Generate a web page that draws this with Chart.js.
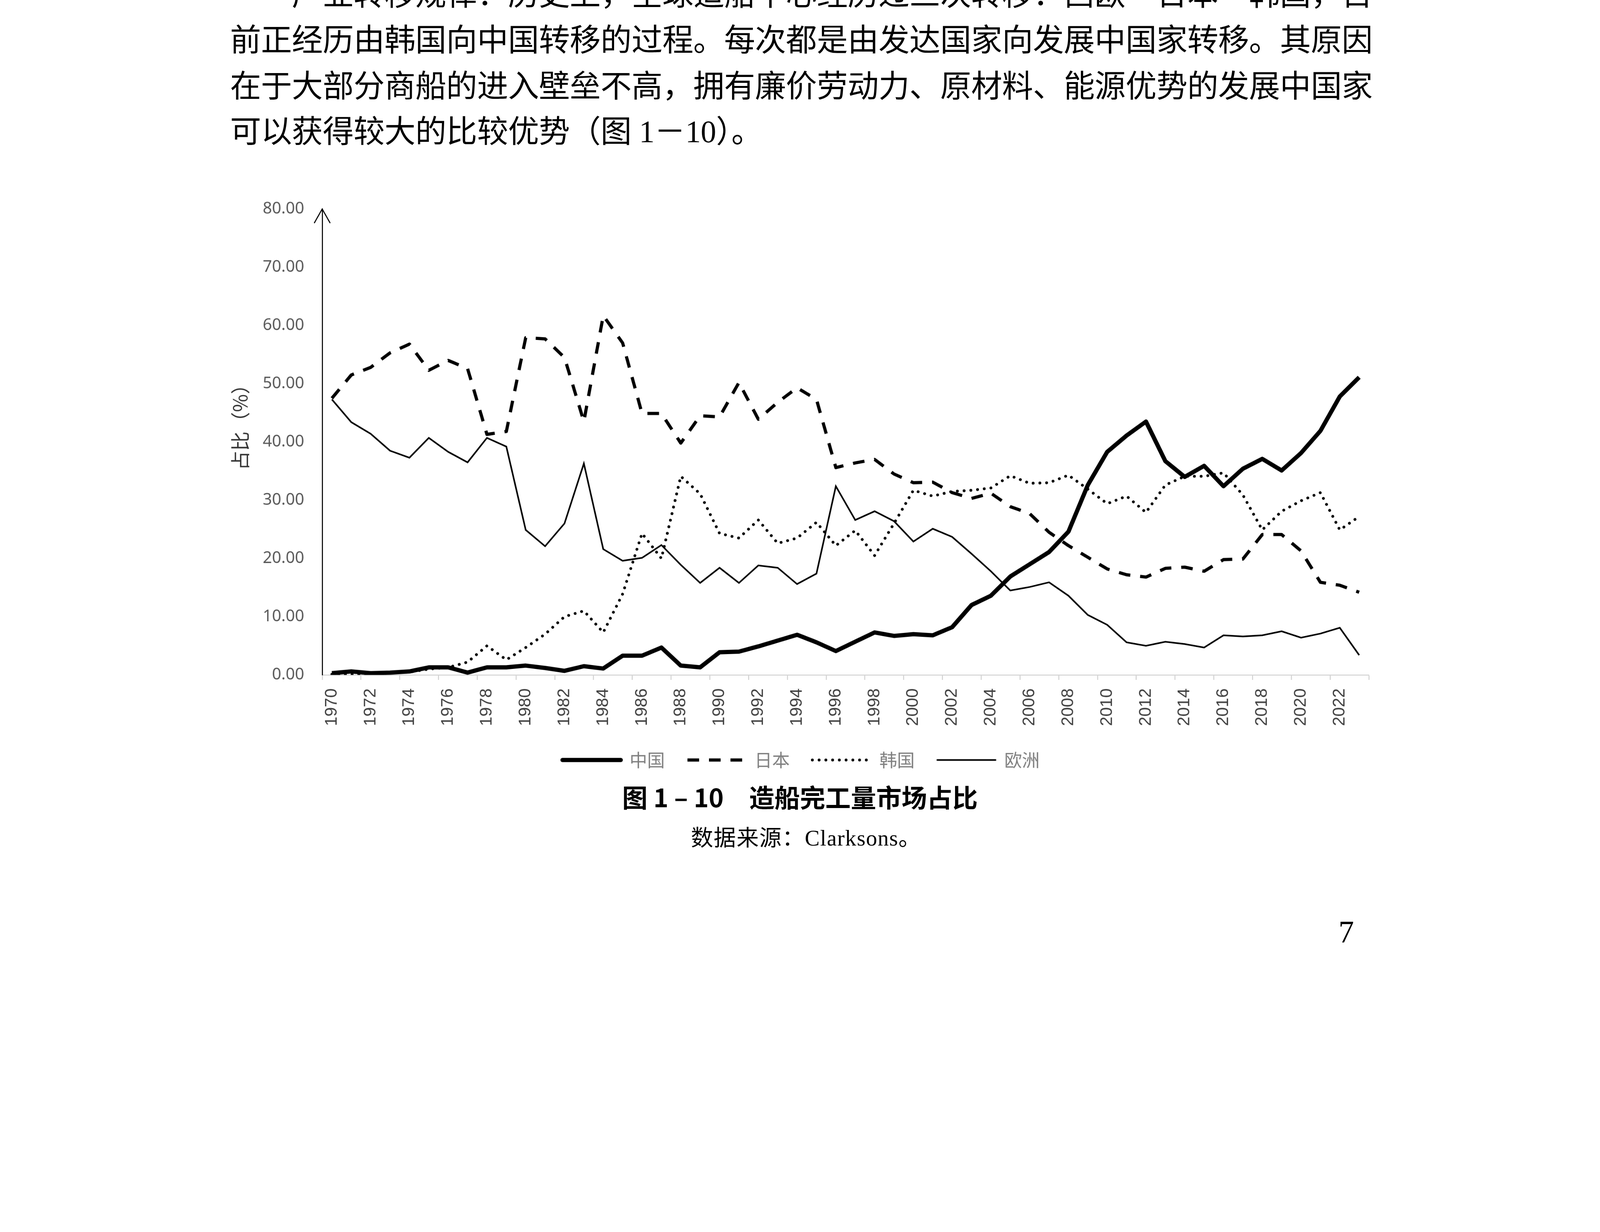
<!DOCTYPE html>
<html>
<head>
<meta charset="utf-8">
<script src="https://cdn.jsdelivr.net/npm/chart.js@4.4.0/dist/chart.umd.min.js"></script>
<style>
html,body{margin:0;padding:0;background:#fff;overflow:hidden;}
#page{position:absolute;left:0;top:0;width:4534px;height:3153px;overflow:hidden;background:#fff;transform-origin:0 0;}
.p{position:absolute;left:652px;white-space:nowrap;font-family:"Liberation Serif","Noto Sans CJK SC",serif;font-size:88px;line-height:88px;letter-spacing:-0.5px;color:#000;}
#cv{position:absolute;left:0;top:500px;}
#cap{position:absolute;left:0;width:4534px;top:2220px;text-align:center;font-family:"Noto Sans CJK SC",sans-serif;font-weight:700;font-size:72px;line-height:72px;color:#000;white-space:pre;}
#src{position:absolute;left:1958px;top:2343px;font-family:"Liberation Serif","Noto Sans CJK SC",serif;font-size:63px;line-height:63px;letter-spacing:1.5px;color:#000;white-space:nowrap;}
#pn{position:absolute;left:3775px;width:80px;text-align:center;top:2597px;font-family:"Liberation Serif",serif;font-size:88px;line-height:88px;color:#000;}
</style>
</head>
<body>
<div id="page">
<div class="p" style="top:-59px;padding-left:175px">产业转移规律：历史上，全球造船中心经历过三次转移：西欧—日本—韩国，目</div>
<div class="p" style="top:71px">前正经历由韩国向中国转移的过程。每次都是由发达国家向发展中国家转移。其原因</div>
<div class="p" style="top:201px">在于大部分商船的进入壁垒不高，拥有廉价劳动力、原材料、能源优势的发展中国家</div>
<div class="p" style="top:330px">可以获得较大的比较优势（图 1－10）。</div>
<canvas id="cv" width="4534" height="1800"></canvas>
<div id="cap">图 1 – 10　造船完工量市场占比</div>
<div id="src">数据来源：Clarksons。</div>
<div id="pn">7</div>
</div>
<script>
(function fit() {
  const s = Math.min(window.innerWidth / 4534, window.innerHeight / 3153);
  document.getElementById('page').style.transform = 'scale(' + s + ')';
})();

const years = ['1970','1971','1972','1973','1974','1975','1976','1977','1978','1979',
  '1980','1981','1982','1983','1984','1985','1986','1987','1988','1989',
  '1990','1991','1992','1993','1994','1995','1996','1997','1998','1999',
  '2000','2001','2002','2003','2004','2005','2006','2007','2008','2009',
  '2010','2011','2012','2013','2014','2015','2016','2017','2018','2019',
  '2020','2021','2022','2023'];

const china = [0.3,0.6,0.3,0.4,0.6,1.3,1.3,0.4,1.3,1.3,
  1.6,1.2,0.7,1.5,1.1,3.3,3.3,4.7,1.6,1.3,
  3.9,4.0,4.9,5.9,6.9,5.6,4.1,5.7,7.3,6.7,
  7.0,6.8,8.2,12.0,13.6,16.9,19.0,21.1,24.6,32.6,
  38.3,41.1,43.5,36.7,34.0,35.9,32.4,35.4,37.1,35.1,
  38.1,41.9,47.8,51.1];

const japan = [47.5,51.5,52.8,55.3,56.8,52.3,54.0,52.6,41.3,41.8,
  57.9,57.7,54.5,43.5,61.7,57.0,44.9,44.9,39.8,44.5,
  44.3,50.2,43.9,46.8,49.3,47.3,35.6,36.4,37.0,34.5,
  33.0,33.1,31.3,30.3,31.2,28.9,27.7,24.5,22.2,20.2,
  18.2,17.2,16.8,18.3,18.5,17.8,19.8,19.9,24.1,24.1,
  21.3,15.9,15.4,14.2];

const korea = [0.1,0.1,0.2,0.3,0.5,1.0,1.3,2.2,5.0,2.6,
  4.7,7.0,10.0,11.0,7.3,13.9,24.3,20.0,34.1,31.1,
  24.3,23.5,26.6,22.6,23.5,26.2,22.2,24.8,20.5,26.0,
  31.7,30.7,31.5,31.7,32.1,34.2,32.9,33.0,34.3,31.9,
  29.4,30.7,27.9,32.6,34.1,34.1,34.7,30.9,24.9,28.1,
  29.9,31.3,24.9,27.2];

const europe = [47.3,43.4,41.4,38.5,37.3,40.7,38.3,36.5,40.7,39.2,
  24.9,22.1,26.0,36.3,21.6,19.6,20.1,22.3,18.9,15.8,
  18.4,15.8,18.8,18.4,15.6,17.4,32.4,26.6,28.1,26.4,
  22.9,25.1,23.7,20.8,17.8,14.5,15.1,15.9,13.6,10.3,
  8.6,5.6,5.0,5.7,5.3,4.7,6.8,6.6,6.8,7.5,
  6.4,7.1,8.1,3.4];

const seriesNames = ['中国','日本','韩国','欧洲'];
const yMin = 0, yMax = 80, yStep = 10;
const yTitle = '占比（%）';

const arrowPlugin = {
  id: 'yArrow',
  afterDraw(chart) {
    const {ctx, chartArea, scales} = chart;
    const x = chartArea.left;
    const top = scales.y.getPixelForValue(yMax);
    ctx.save();
    ctx.strokeStyle = '#000';
    ctx.lineWidth = 3;
    ctx.lineCap = 'round';
    ctx.setLineDash([]);
    ctx.beginPath();
    ctx.moveTo(x - 22, top + 39);
    ctx.lineTo(x, top);
    ctx.lineTo(x + 22, top + 39);
    ctx.stroke();
    ctx.restore();
  }
};

const tickOn = c => (c.index === undefined || c.index % 2 === 0) ? '#d4d4d4' : 'rgba(0,0,0,0)';

new Chart(document.getElementById('cv'), {
  type: 'line',
  data: {
    labels: years,
    datasets: [
      {label: seriesNames[0], data: china, borderColor:'#000', backgroundColor:'#000', borderWidth:12,
       borderJoinStyle:'round', borderCapStyle:'butt', pointRadius:0, tension:0, pointStyle:'line'},
      {label: seriesNames[1], data: japan, borderColor:'#000', backgroundColor:'#000', borderWidth:9,
       borderDash:[33,28], borderJoinStyle:'round', borderCapStyle:'butt', pointRadius:0, tension:0, pointStyle:'line'},
      {label: seriesNames[2], data: korea, borderColor:'#000', backgroundColor:'#000', borderWidth:8,
       borderDash:[0.1,19], borderJoinStyle:'round', borderCapStyle:'round', pointRadius:0, tension:0, pointStyle:'line'},
      {label: seriesNames[3], data: europe, borderColor:'#000', backgroundColor:'#000', borderWidth:4.5,
       borderJoinStyle:'miter', borderCapStyle:'butt', pointRadius:0, tension:0, pointStyle:'line'}
    ]
  },
  options: {
    responsive: false,
    animation: false,
    devicePixelRatio: 1,
    layout: {padding: {left: 661, right: 655, top: 92, bottom: 112}},
    plugins: {
      tooltip: {enabled: false},
      legend: {
        position: 'bottom',
        labels: {
          usePointStyle: true,
          pointStyle: 'line',
          pointStyleWidth: 165,
          padding: 64,
          color: '#7f7f7f',
          font: {family: 'Noto Sans CJK SC', size: 50},
          generateLabels(chart) {
            const items = Chart.defaults.plugins.legend.labels.generateLabels(chart);
            items.forEach(it => {
              const ds = chart.data.datasets[it.datasetIndex];
              it.lineDash = ds.borderDash || [];
              it.lineCap = ds.borderDash ? (ds.borderCapStyle || 'butt') : 'round';
              it.lineWidth = ds.borderWidth;
              it.strokeStyle = ds.borderColor;
              it.pointStyle = 'line';
              it.fontColor = '#7f7f7f';
            });
            return items;
          }
        }
      }
    },
    scales: {
      x: {
        offset: true,
        afterFit(scale) { scale.height = 152; },
        grid: {
          offset: true,
          drawOnChartArea: false,
          drawTicks: true,
          tickLength: 14,
          tickWidth: 3,
          tickColor: tickOn,
          color: tickOn
        },
        border: {display: true, color: '#d4d4d4', width: 3},
        ticks: {
          autoSkip: false,
          maxRotation: 90,
          minRotation: 90,
          padding: 24,
          color: '#404040',
          font: {family: 'Liberation Sans', size: 48},
          callback(v, i) { return i % 2 === 0 ? this.getLabelForValue(v) : ''; }
        }
      },
      y: {
        min: yMin,
        max: yMax,
        afterFit(scale) { scale.width = 252; },
        grid: {display: false, drawTicks: false},
        border: {display: true, color: '#000', width: 3},
        ticks: {
          stepSize: yStep,
          padding: 51,
          color: '#595959',
          font: {family: 'Noto Sans', size: 46},
          callback(v) { return Number(v).toFixed(2); }
        },
        title: {
          display: true,
          text: '\u3000\u3000' + yTitle,
          color: '#333',
          font: {family: 'Noto Sans CJK SC', size: 55},
          padding: {top: -14, bottom: 0}
        }
      }
    }
  },
  plugins: [arrowPlugin]
});
</script>
</body>
</html>
